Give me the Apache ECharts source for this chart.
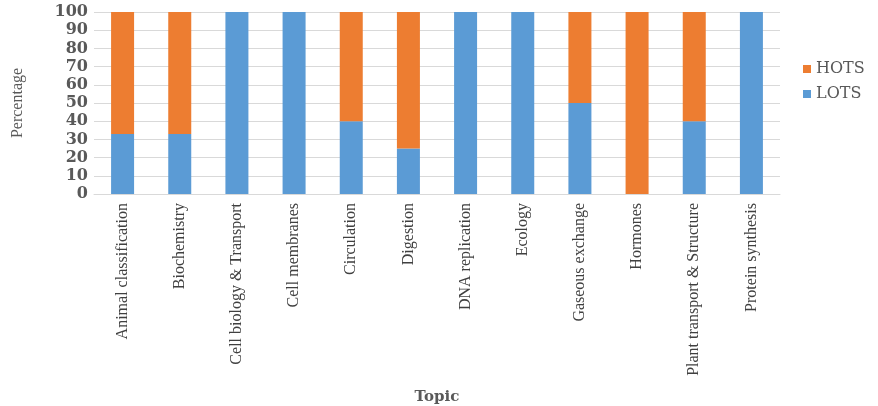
<!DOCTYPE html>
<html>
<head>
<meta charset="utf-8">
<script src="https://cdn.jsdelivr.net/npm/echarts@6/dist/echarts.min.js"></script>
<style>
  html, body { margin: 0; padding: 0; background: #fff; }
  #chart { width: 878px; height: 406px; }
</style>
</head>
<body>
<div id="chart"></div>
<script>
// Topics on the category axis
const topics = [
  'Animal classification', 'Biochemistry', 'Cell biology & Transport',
  'Cell membranes', 'Circulation', 'Digestion', 'DNA replication',
  'Ecology', 'Gaseous exchange', 'Hormones',
  'Plant transport & Structure', 'Protein synthesis'
];
// Share of lower-order thinking skills questions (%)
const lots = [33, 33, 100, 100, 40, 25, 100, 100, 50, 0, 40, 100];
// Share of higher-order thinking skills questions (%)
const hots = [67, 67, 0, 0, 60, 75, 0, 0, 50, 100, 60, 0];
// Value axis ticks
const yTicks = { min: 0, max: 100, interval: 10 };

const chart = echarts.init(document.getElementById('chart'));
const serif = '"Liberation Serif", "Times New Roman", serif';
const wideSerif = '"DejaVu Serif", serif';

chart.setOption({
  animation: false,
  color: ['#5B9BD5', '#ED7D31'],
  grid: { left: 94, right: 98, top: 12, bottom: 210 },
  legend: {
    data: ['HOTS', 'LOTS'],
    orient: 'vertical',
    left: 798,
    top: 56,
    itemWidth: 8,
    itemHeight: 8,
    itemGap: 9,
    icon: 'rect',
    textStyle: { fontFamily: wideSerif, fontSize: 16, color: '#595959' }
  },
  xAxis: {
    type: 'category',
    data: topics,
    name: 'Topic',
    nameLocation: 'middle',
    nameGap: 196,
    nameTextStyle: { fontFamily: wideSerif, fontSize: 15, fontWeight: 'bold', color: '#595959' },
    axisLine: { lineStyle: { color: '#D9D9D9' } },
    axisTick: { show: false },
    axisLabel: {
      rotate: 90,
      interval: 0,
      margin: 9,
      fontFamily: serif,
      fontSize: 16,
      color: '#404040'
    }
  },
  yAxis: {
    type: 'value',
    min: yTicks.min,
    max: yTicks.max,
    interval: yTicks.interval,
    name: 'Percentage',
    nameLocation: 'middle',
    nameGap: 68,
    nameTextStyle: { fontFamily: serif, fontSize: 16, color: '#595959' },
    axisLine: { show: false },
    axisTick: { show: false },
    axisLabel: {
      margin: 6,
      fontFamily: wideSerif,
      fontSize: 16,
      fontWeight: 'bold',
      color: '#595959'
    },
    splitLine: { lineStyle: { color: '#D9D9D9' } }
  },
  series: [
    { name: 'LOTS', type: 'bar', stack: 'total', data: lots, barWidth: 23 },
    { name: 'HOTS', type: 'bar', stack: 'total', data: hots, barWidth: 23 }
  ]
});
</script>
</body>
</html>
